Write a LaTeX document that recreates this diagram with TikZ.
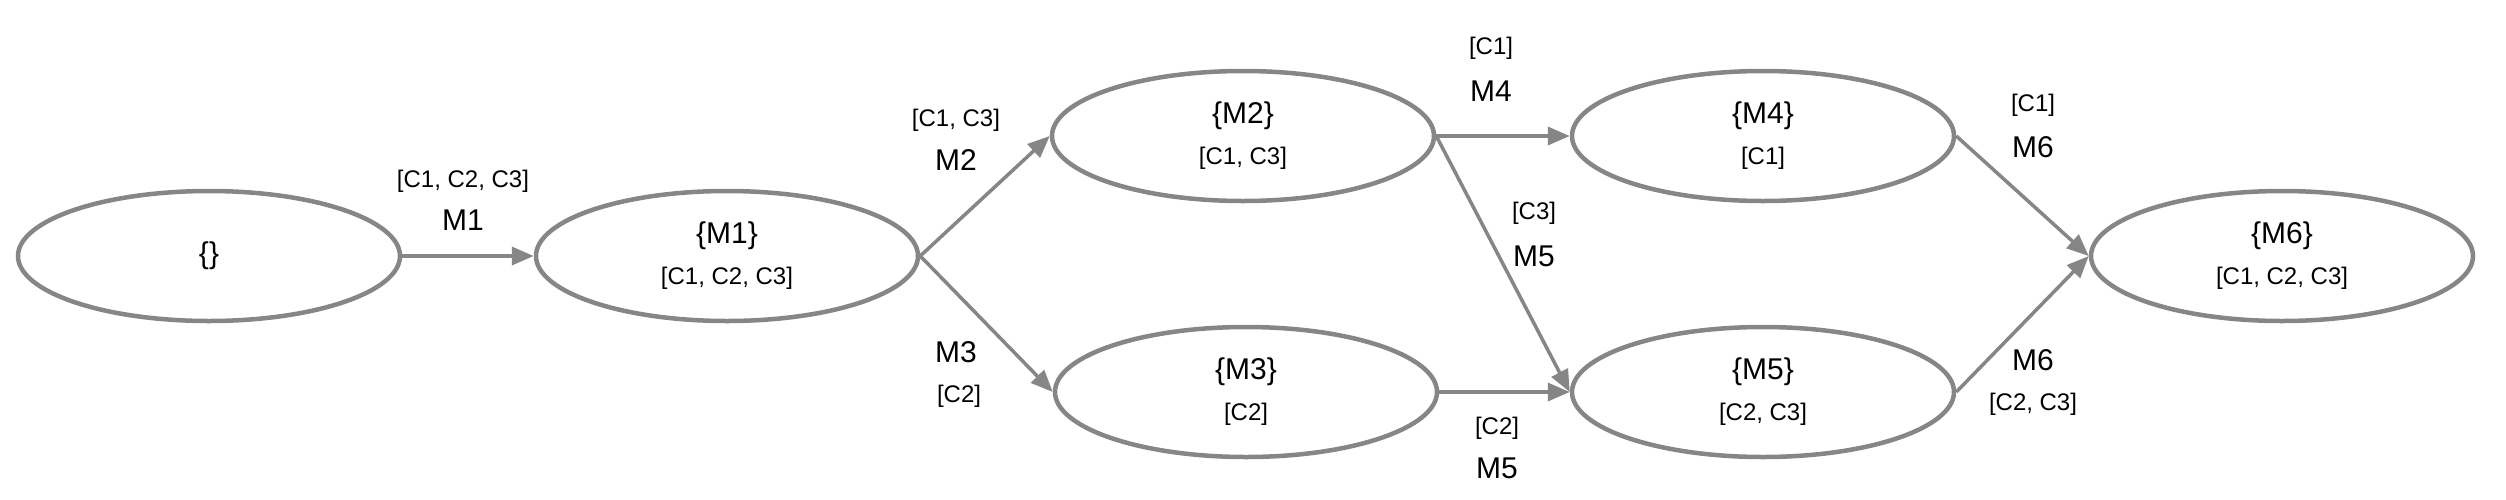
\documentclass[tikz,border=0pt]{standalone}
\usepackage{fontspec}
\setmainfont{Liberation Sans}
\usetikzlibrary{arrows.meta,shapes.geometric}
\begin{document}
\begin{tikzpicture}[x=1pt,y=-1pt,
  st/.style={draw=gray!95,line width=4.5pt,ellipse,minimum width=382pt,minimum height=130pt,inner sep=0pt},
  ar/.style={draw=gray!95,line width=3.5pt,-{Triangle[length=22pt,width=18pt]}},
  big/.style={font=\fontsize{30}{34}\selectfont,inner sep=0pt},
  sm/.style={font=\fontsize{24}{28}\selectfont,inner sep=0pt}]
\useasboundingbox (0,0) rectangle (2506,499);
\node[st] (s0) at (209,256) {};
\node[st] (s1) at (727,256) {};
\node[st] (s2) at (1243,136) {};
\node[st] (s3) at (1246,392) {};
\node[st] (s4) at (1763,136) {};
\node[st] (s5) at (1763,392) {};
\node[st] (s6) at (2282,256) {};
\node[big] (t0) at (209,256) {\{\}};
\foreach \n/\x/\y/\a/\b in {1/727/256/M1/{C1, C2, C3},2/1243/136/M2/{C1, C3},3/1246/392/M3/{C2},4/1763/136/M4/{C1},5/1763/392/M5/{C2, C3},6/2282/256/M6/{C1, C2, C3}}{
  \node[big] (a\n) at (\x,\y-20) {\{\a\}};
  \node[sm] (b\n) at (\x,\y+22) {[\b]};
}
\draw[ar] (s0.east) -- (s1.west);
\draw[ar] (s1.east) -- (s2.west);
\draw[ar] (s1.east) -- (s3.west);
\draw[ar] (s2.east) -- (s4.west);
\draw[ar] (s2.east) -- (s5.west);
\draw[ar] (s3.east) -- (s5.west);
\draw[ar] (s4.east) -- (s6.west);
\draw[ar] (s5.east) -- (s6.west);
\node[sm] (l1a) at (463,181) {[C1, C2, C3]};
\node[big] (l1b) at (463,220) {M1};
\node[sm] (l2a) at (956,120) {[C1, C3]};
\node[big] (l2b) at (956,160) {M2};
\node[big] (l3a) at (956,352) {M3};
\node[sm] (l3b) at (959,396) {[C2]};
\node[sm] (l4a) at (1491,48) {[C1]};
\node[big] (l4b) at (1491,91) {M4};
\node[sm] (l5a) at (1534,213) {[C3]};
\node[big] (l5b) at (1534,256) {M5};
\node[sm] (l6a) at (1497,428) {[C2]};
\node[big] (l6b) at (1497,468) {M5};
\node[sm] (l7a) at (2033,105) {[C1]};
\node[big] (l7b) at (2033,147) {M6};
\node[big] (l8a) at (2033,360) {M6};
\node[sm] (l8b) at (2033,404) {[C2, C3]};
\end{tikzpicture}
\end{document}
